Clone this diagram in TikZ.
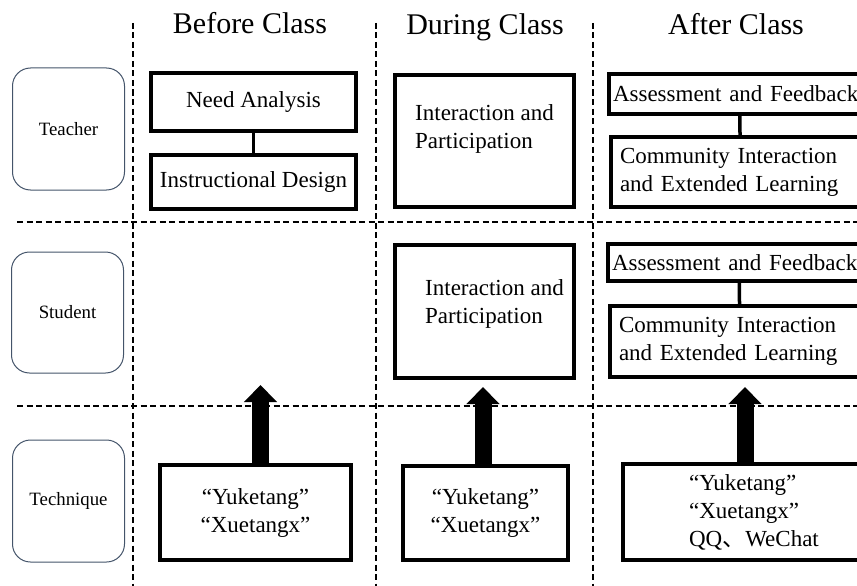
\documentclass[tikz,border=0pt]{standalone}
\usepackage{fontspec}
\setmainfont{Liberation Serif}
\newfontfamily\cjk{Noto Sans CJK SC}
\usepackage{tikz}
\usetikzlibrary{arrows.meta,positioning,calc}
\definecolor{rolec}{HTML}{44546A}

\begin{document}
\begin{tikzpicture}[x=1pt,y=-1pt,
  box/.style={draw, line width=3.5pt, inner sep=0pt, outer sep=0pt, anchor=north west, font=\fontsize{23}{28}\selectfont},
  txt/.style={inner sep=0pt, align=left, anchor=north west, font=\fontsize{23}{28}\selectfont},
  role/.style={draw=rolec, line width=1pt, rounded corners=18pt, minimum width=112pt, font=\fontsize{18.8}{22}\selectfont},
  head/.style={anchor=base, font=\fontsize{30}{36}\selectfont},
  sepline/.style={line width=1.6pt, dash pattern=on 6pt off 3.5pt},
  link/.style={line width=3.5pt},
  bigarrow/.style={line width=17pt, -{Triangle[length=17pt,width=32pt]}}]
\useasboundingbox (0,0) rectangle (857,586);

%dashed separators
\draw[sepline] (133,23) -- (133,586);
\draw[sepline] (376,23) -- (376,586);
\draw[sepline] (593,23) -- (593,586);
\draw[sepline] (17,222) -- (857,222);
\draw[sepline] (17,406) -- (857,406);

% Column heads
\node[head] (hbefore) at (250,34) {Before Class};
\node[head] (hduring) at (485,35) {During Class};
\node[head] (hafter) at (736,35) {After Class};

% Row labels
\node[role, minimum height=122pt] (teacher) at (68.5,129) {Teacher};
\node[role, minimum height=121pt] (student) at (67.5,312.5) {Student};
\node[role, minimum height=122pt] (technique) at (68.5,501) {Technique};

% Teacher row
\node[box, minimum width=205, minimum height=58] (need) at (151,73) {Need Analysis};
\node[box, minimum width=205, minimum height=54] (design) at (151,155) {Instructional Design};
\node[box, minimum width=179, minimum height=132] (tdur) at (395,75) {};
\node[txt] (tdurtxt) at ([shift={(20,29)}]tdur.north west) {Interaction and\\Participation};
\node[box, inner xsep=4pt, text width=253pt, align=left, minimum height=40] (tassess) at (609,74) {Assessment and Feedback};
\node[box, inner xsep=9pt, text width=241pt, align=left, minimum height=70] (tcomm) at (611,137) {Community Interaction\\and Extended Learning};

% Student row
\node[box, minimum width=179, minimum height=133] (sdur) at (395,245) {};
\node[txt] (sdurtxt) at ([shift={(30,34)}]sdur.north west) {Interaction and\\Participation};
\node[box, inner xsep=4pt, text width=254pt, align=left, minimum height=37] (sassess) at (608,244) {Assessment and Feedback};
\node[box, inner xsep=9pt, text width=242pt, align=left, minimum height=71] (scomm) at (610,306) {Community Interaction\\and Extended Learning};

% Technique row
\node[box, minimum width=191, minimum height=95, align=center] (kbefore) at (160,465) {“Yuketang”\\“Xuetangx”};
\node[box, minimum width=165, minimum height=94, align=center] (kduring) at (403,466) {“Yuketang”\\“Xuetangx”};
\node[box, minimum width=262, minimum height=96, align=left] (kafter) at (623,464) {“Yuketang”\\“Xuetangx”\\QQ{\cjk 、}WeChat};

% links inside columns
\draw[link] (need) -- (design);
\draw[link] (tassess) -- (tcomm);
\draw[link] (sassess) -- (scomm);

% support arrows
\coordinate (up1) at (260.5,385);
\coordinate (up2) at (483,387);
\coordinate (up3) at (745,387);
\draw[bigarrow] (kbefore.north -| up1) -- (up1);
\draw[bigarrow] (kduring.north -| up2) -- (up2);
\draw[bigarrow] (kafter.north -| up3) -- (up3);
\end{tikzpicture}
\end{document}
